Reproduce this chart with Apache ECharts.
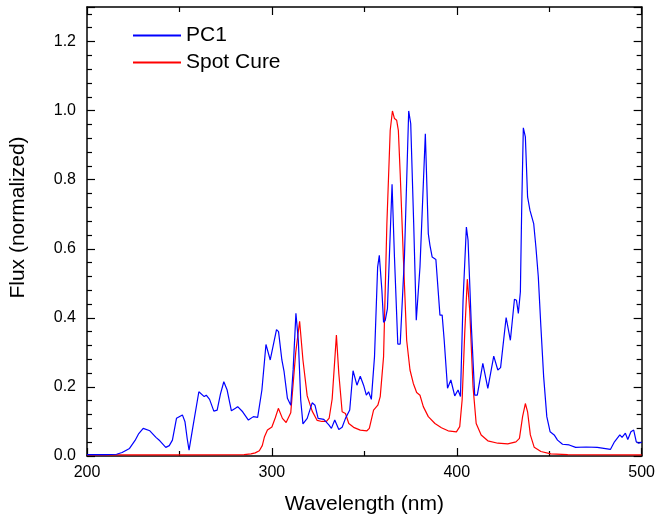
<!DOCTYPE html>
<html>
<head>
<meta charset="utf-8">
<script src="https://cdn.jsdelivr.net/npm/echarts@6/dist/echarts.min.js"></script>
<style>
html,body{margin:0;padding:0;background:#fff;}
#chart{width:658px;height:521px;}
</style>
</head>
<body>
<div id="chart"></div>
<script>
// ---- data ----
var seriesNames = ["PC1", "Spot Cure"];

var pc1Wavelength = [200,210,216,219,223,226,228,230.4,234,237.3,239.4,242.6,244.5,246.2,248.4,251.6,253,254.2,255.2,257.3,260.5,263.4,264.5,266.3,268.6,270.4,272.2,274,275.8,278.1,280.3,281.5,284.2,287.3,290,292.3,294.6,296.8,299.1,302.5,303.6,305.4,306.6,308.4,310.2,311.5,313,314.3,315.6,316.8,319.1,321.8,323.3,325,328.1,330.8,332.2,334,336.2,338,339.8,342.1,343.9,346,347.8,349.6,351.1,352.3,353.8,355.5,357.2,358.1,359.5,360.4,361.3,362.5,363.2,365,366.3,368.1,369.4,371.7,374,375.1,376.7,378.1,378.8,380.1,383,384.6,385.5,386.7,388.7,390.9,392.1,393.2,395,396.8,398.9,400.7,402,403.4,405.2,406.1,407.9,409.7,411.1,414.1,416.8,420,422.2,423.7,426.7,429,431.2,432.3,433.3,434.4,435.1,436,437.1,438.3,439.6,441.6,442.8,444.1,445.5,447,448.7,450.5,452.7,454.5,457.2,460.8,464.3,470,476,483.1,485.3,488.2,489.4,491.2,492.5,494.2,495.7,497.1,498.4,500];
var pc1Flux = [0.004,0.004,0.005,0.010,0.022,0.045,0.065,0.080,0.073,0.054,0.044,0.025,0.030,0.046,0.109,0.119,0.099,0.050,0.017,0.085,0.186,0.172,0.176,0.164,0.130,0.133,0.180,0.215,0.191,0.131,0.138,0.143,0.128,0.104,0.114,0.112,0.191,0.323,0.278,0.366,0.360,0.278,0.244,0.167,0.147,0.250,0.413,0.335,0.162,0.093,0.109,0.154,0.147,0.109,0.106,0.090,0.080,0.104,0.077,0.083,0.109,0.133,0.247,0.205,0.231,0.205,0.176,0.186,0.164,0.287,0.547,0.581,0.480,0.387,0.393,0.427,0.427,0.787,0.576,0.324,0.324,0.576,0.999,0.962,0.673,0.393,0.388,0.547,0.933,0.644,0.610,0.576,0.569,0.408,0.408,0.335,0.196,0.220,0.174,0.191,0.172,0.451,0.663,0.625,0.374,0.176,0.176,0.268,0.196,0.289,0.249,0.256,0.401,0.335,0.454,0.451,0.413,0.475,0.711,0.950,0.924,0.750,0.711,0.673,0.605,0.519,0.374,0.229,0.114,0.070,0.061,0.046,0.034,0.032,0.025,0.026,0.025,0.019,0.041,0.061,0.054,0.066,0.048,0.070,0.075,0.041,0.037,0.040];

var spotWavelength = [200,250,285,288.7,291,293.2,294.8,296,297.6,300,301.8,303.5,305.7,307.7,310.2,312.9,315,316.8,319.1,321.8,324.5,327,329.5,331,332.6,334.9,336.2,338,339.8,341.6,344.2,347.8,351.4,352.7,355,357.3,358.6,360.4,362.2,364,365.2,366.3,367.5,368.4,369.4,371.1,372.9,374.7,376.5,378.3,380.1,381.9,384.6,388.2,391.7,395.3,399.8,401.6,402.9,404.3,405.7,407,408.8,410.5,413.2,416.8,422.2,427.6,432,433.9,435.6,437.1,438.3,439.8,441.9,445.5,450.9,460,500];
var spotFlux = [0.003,0.003,0.004,0.006,0.009,0.015,0.030,0.056,0.075,0.084,0.110,0.138,0.109,0.097,0.125,0.300,0.390,0.278,0.174,0.130,0.103,0.100,0.100,0.110,0.165,0.350,0.239,0.128,0.123,0.094,0.083,0.075,0.073,0.080,0.133,0.147,0.172,0.287,0.673,0.943,0.999,0.977,0.972,0.943,0.818,0.576,0.335,0.249,0.210,0.184,0.176,0.143,0.114,0.094,0.082,0.073,0.070,0.085,0.162,0.355,0.512,0.422,0.200,0.094,0.061,0.044,0.037,0.035,0.041,0.051,0.114,0.152,0.128,0.061,0.025,0.013,0.006,0.004,0.003];

var xTicks = [200, 300, 400, 500];
var yTicks = [0.0, 0.2, 0.4, 0.6, 0.8, 1.0, 1.2];

// ---- build ----
function pairs(xs, ys) { return xs.map(function (x, i) { return [x, ys[i]]; }); }

var FONT = '"Liberation Sans", Arial, sans-serif';
var axisLineStyle = { color: '#000', width: 1.5 };

function xAx(pos, labels) {
  return {
    type: 'value', position: pos, min: xTicks[0], max: xTicks[xTicks.length - 1],
    interval: xTicks[1] - xTicks[0],
    name: labels ? 'Wavelength (nm)' : '', nameLocation: 'middle', nameGap: 38,
    nameTextStyle: { fontFamily: FONT, fontSize: 21, color: '#000' },
    axisLine: { show: true, onZero: false, lineStyle: axisLineStyle },
    axisTick: { show: true, inside: true, length: 8, lineStyle: { color: '#000', width: 1.2 } },
    minorTick: { show: true, splitNumber: 2, length: 5, lineStyle: { color: '#000', width: 1.2 } },
    axisLabel: { show: labels, fontFamily: FONT, fontSize: 16, color: '#000', margin: 9 },
    splitLine: { show: false }, minorSplitLine: { show: false }
  };
}
function yAx(pos, labels) {
  return {
    type: 'value', position: pos, min: 0, max: 1.3, interval: 0.2,
    name: labels ? 'Flux (normalized)' : '', nameLocation: 'middle', nameGap: 58,
    nameTextStyle: { fontFamily: FONT, fontSize: 21, color: '#000', padding: [0, 0, 0, 28] },
    axisLine: { show: true, onZero: false, lineStyle: axisLineStyle },
    axisTick: { show: true, inside: true, length: 8, lineStyle: { color: '#000', width: 1.2 } },
    minorTick: { show: true, splitNumber: 5, length: 5, lineStyle: { color: '#000', width: 1.2 } },
    axisLabel: {
      show: labels, fontFamily: FONT, fontSize: 16, color: '#000', margin: 11,
      formatter: function (v) {
        for (var i = 0; i < yTicks.length; i++) if (Math.abs(v - yTicks[i]) < 1e-6) return yTicks[i].toFixed(1);
        return '';
      }
    },
    splitLine: { show: false }, minorSplitLine: { show: false }
  };
}

var chart = echarts.init(document.getElementById('chart'), null, { renderer: 'canvas' });
chart.setOption({
  animation: false,
  backgroundColor: '#fff',
  grid: { left: 87, right: 13, top: 7, bottom: 65, containLabel: false },
  legend: {
    orient: 'vertical', left: 132, top: 25, padding: 0, itemWidth: 48, itemHeight: 21, itemGap: 6,
    itemStyle: { opacity: 0 },
    textStyle: { fontFamily: FONT, fontSize: 21, color: '#000', lineHeight: 21 },
    data: seriesNames
  },
  xAxis: [xAx('bottom', true), xAx('top', false)],
  yAxis: [yAx('left', true), yAx('right', false)],
  series: [
    { name: seriesNames[0], type: 'line', xAxisIndex: 0, yAxisIndex: 0, symbol: 'none',
      lineStyle: { color: '#0000ff', width: 1.2 }, itemStyle: { color: '#0000ff' },
      data: pairs(pc1Wavelength, pc1Flux), z: 3 },
    { name: seriesNames[1], type: 'line', xAxisIndex: 0, yAxisIndex: 0, symbol: 'none',
      lineStyle: { color: '#ff0000', width: 1.2 }, itemStyle: { color: '#ff0000' },
      data: pairs(spotWavelength, spotFlux), z: 2 }
  ]
});
</script>
</body>
</html>
